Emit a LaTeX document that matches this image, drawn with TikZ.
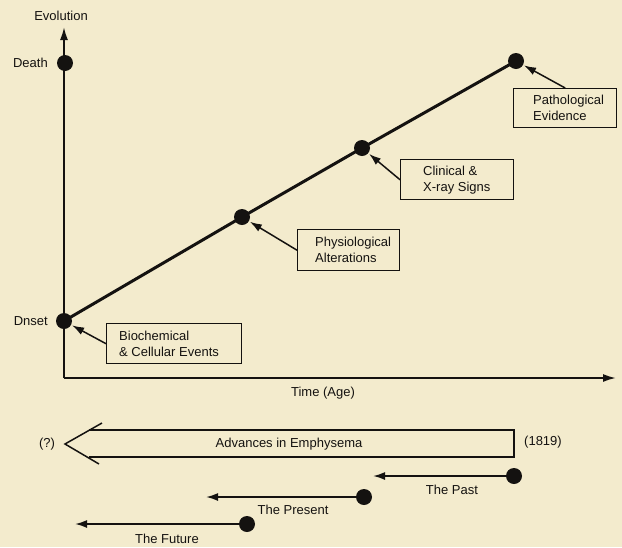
\documentclass[tikz,border=0pt]{standalone}
\usepackage{fontspec}
\setmainfont{Liberation Sans}
\usetikzlibrary{arrows.meta}
\definecolor{paper}{RGB}{243,235,205}
\definecolor{ink}{RGB}{20,18,16}
\tikzset{
  dot/.style={circle,fill=ink,draw=none,inner sep=0pt,minimum size=16pt},
  lbl/.style={font=\fontsize{13}{15}\selectfont,text=ink,inner sep=0pt},
  box/.style={draw=ink,line width=1.4pt,inner sep=0pt,anchor=north west},
  boxtxt/.style={font=\fontsize{13}{16}\selectfont,text=ink,align=left,anchor=west,inner sep=0pt},
  axis/.style={draw=ink,line width=1.8pt,-{Latex[length=13pt,width=8pt]}},
  ptr/.style={draw=ink,line width=1.5pt,-{Latex[length=12pt,width=8pt]},shorten >=1pt},
  evo/.style={draw=ink,line width=3pt},
}
\begin{document}
\begin{tikzpicture}[x=1pt,y=-1pt]
\fill[paper] (0,0) rectangle (622,547);
\useasboundingbox (0,0) rectangle (622,547);
% axes
\coordinate (origin) at (64,378);
\coordinate (ytip) at (64,27);
\coordinate (xtip) at (616,378);
\draw[axis] (origin) -- (ytip);
\draw[axis] (origin) -- (xtip);
\node[lbl] (evol) at (61,16) {Evolution};
\node[lbl] (time) at (323,393) {Time (Age)};
\node[dot] (death) at (65,63) {};
\node[lbl,anchor=east] (deathl) at (48,63) {Death};
\node[dot] (onset) at (64,321) {};
\node[lbl,anchor=east] (onsetl) at (48,321) {Dnset};
% evolution line
\node[dot] (phys) at (242,217) {};
\node[dot] (clin) at (362,148) {};
\node[dot] (path) at (516,61) {};
\draw[evo] (onset.center) -- (phys.center) -- (clin.center) -- (path.center);
% boxes
\node[box,minimum width=135pt,minimum height=40pt] (bio) at (106,323) {};
\node[boxtxt] (biot) at ([xshift=13pt]bio.west) {Biochemical\\\& Cellular Events};
\node[box,minimum width=102pt,minimum height=41pt] (physb) at (297,229) {};
\node[boxtxt] (physt) at ([xshift=18pt]physb.west) {Physiological\\Alterations};
\node[box,minimum width=113pt,minimum height=40pt] (clinb) at (400,159) {};
\node[boxtxt] (clint) at ([xshift=23pt]clinb.west) {Clinical \&\\X-ray Signs};
\node[box,minimum width=103pt,minimum height=39pt] (pathb) at (513,88) {};
\node[boxtxt] (patht) at ([xshift=20pt]pathb.west) {Pathological\\Evidence};
\draw[ptr] (bio.west) -- (onset);
\draw[ptr] (physb.west) -- (phys);
\draw[ptr] (clinb.west) -- (clin);
\draw[ptr] (pathb.north) -- (path);
% advances arrow
\coordinate (wtop) at (102,423);
\coordinate (wtip) at (65,444);
\coordinate (wbot) at (99,464);
\coordinate (rtl) at (89,430);
\coordinate (rtr) at (514,430);
\coordinate (rbr) at (514,457);
\coordinate (rbl) at (89,457);
\draw[ink,line width=1.5pt,line join=miter] (wtop) -- (wtip) -- (wbot);
\draw[ink,line width=1.5pt] (rtl) -- (rtr) -- (rbr) -- (rbl);
\node[lbl] (adv) at (289,444) {Advances in Emphysema};
\node[lbl] (q) at (47,444) {(?)};
\node[lbl] (yr) at (543,442) {(1819)};
% time arrows
\node[dot] (pastd) at (514,476) {};
\coordinate (pastt) at (372,476);
\draw[ptr,line width=1.8pt] (pastd) -- (pastt);
\node[lbl] (pastl) at (452,490) {The Past};
\node[dot] (presd) at (364,497) {};
\coordinate (prest) at (205,497);
\draw[ptr,line width=1.8pt] (presd) -- (prest);
\node[lbl] (presl) at (293,510) {The Present};
\node[dot] (futd) at (247,524) {};
\coordinate (futt) at (74,524);
\draw[ptr,line width=1.8pt] (futd) -- (futt);
\node[lbl] (futl) at (167,539) {The Future};
\end{tikzpicture}
\end{document}
